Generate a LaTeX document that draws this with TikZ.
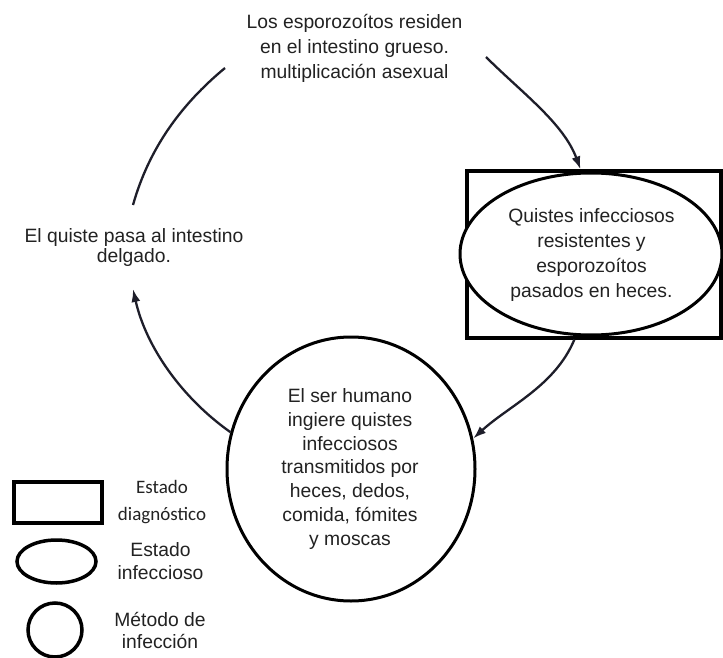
\documentclass[tikz,border=0pt]{standalone}
\usepackage{fontspec}
\setmainfont{Liberation Sans}
\newfontfamily\calfont{Carlito}
\usetikzlibrary{shapes.geometric,arrows.meta}
\definecolor{txt}{HTML}{222222}
\definecolor{arccol}{HTML}{1E1E2A}
\begin{document}
\begin{tikzpicture}[x=1pt,y=-1pt,
  txtnode/.style={align=center,inner sep=0pt,text=txt},
  shp/.style={draw=black,line width=3.2pt,inner sep=0pt},
  conn/.style={draw=arccol,line width=2.3pt},
  arrowed/.style={conn,-{Latex[length=13pt,width=9pt]}},
]
\useasboundingbox (0,0) rectangle (723,658);
\fill[white] (0,0) rectangle (723,658);

% main text nodes
\node[txtnode,font=\fontsize{19.3}{25}\selectfont] (top) at (354.5,48)
  {Los esporozoítos residen\\en el intestino grueso.\\multiplicación asexual};
\node[txtnode,font=\fontsize{19.3}{19.5}\selectfont] (left) at (134,247.5)
  {El quiste pasa al intestino\\delgado.};

% diagnostic + infectious state
\node[shp,rectangle,minimum width=254,minimum height=167] (diag) at (594,254.5) {};
\node[shp,ellipse,fill=white,line width=3pt,minimum width=262,minimum height=162] (infect) at (591,254) {};
\node[txtnode,font=\fontsize{19.3}{24.7}\selectfont] (infecttext) at (591.5,255)
  {Quistes infecciosos\\resistentes y\\esporozoítos\\pasados en heces.};

% infection method
\node[shp,ellipse,line width=3pt,minimum width=248,minimum height=264] (human) at (351,469) {};
\node[txtnode,font=\fontsize{19.3}{23.7}\selectfont] (humantext) at (350,469)
  {El ser humano\\ingiere quistes\\infecciosos\\transmitidos por\\heces, dedos,\\comida, fómites\\y moscas};

% connector free ends
\coordinate (a1) at (133,205);
\coordinate (a2) at (225,68);
\coordinate (b1) at (486,57);
\coordinate (d2) at (133,289);

\draw[conn] (a1) .. controls (148.7,149.3) and (180.3,105) .. (a2);
\draw[arrowed] (b1) .. controls (521,92) and (563.5,123) .. (diag.99);
\draw[arrowed] (diag.257) .. controls (555,386) and (508.5,406) .. (human.14);
\draw[arrowed] (human.163) .. controls (182,398) and (146,347) .. (d2);

% legend
\node[shp,rectangle,line width=3.5pt,minimum width=88,minimum height=41] (legdiag) at (58,502.5) {};
\node[shp,ellipse,line width=3.5pt,minimum width=79,minimum height=43] (leginf) at (56.5,561.5) {};
\node[shp,ellipse,line width=3.5pt,minimum width=54,minimum height=54] (legmeth) at (55,630) {};
\node[txtnode,font=\calfont\fontsize{19}{27}\selectfont] (legdiagtext) at (162,502) {Estado\\diagnóstico};
\node[txtnode,font=\fontsize{19.3}{23}\selectfont] (leginftext) at (160.5,561.5) {Estado\\infeccioso};
\node[txtnode,font=\fontsize{19.3}{22}\selectfont] (legmethtext) at (160,630) {Método de\\infección};
\end{tikzpicture}
\end{document}
